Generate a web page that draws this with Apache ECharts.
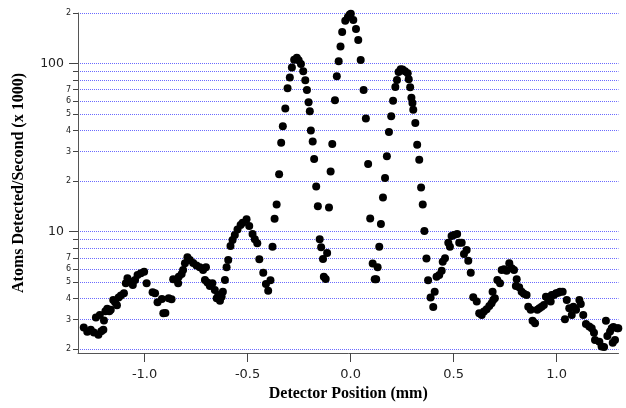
<!DOCTYPE html>
<html>
<head>
<meta charset="utf-8">
<script src="https://cdn.jsdelivr.net/npm/echarts@6/dist/echarts.min.js"></script>
<style>
    html, body { margin: 0; padding: 0; background: #fff; }
    #chart { width: 626px; height: 408px; }
</style>
</head>
<body>
<div id="chart"></div>
<script>
// detector position (mm)
var positions = [
    -1.295, -1.278, -1.261, -1.246, -1.236, -1.224, -1.217, -1.210, -1.200, -1.197,
    -1.190, -1.181, -1.171, -1.164, -1.152, -1.143, -1.134, -1.126, -1.115, -1.100,
    -1.091, -1.083, -1.071, -1.057, -1.046, -1.034, -1.018, -1.002, -0.990, -0.961,
    -0.949, -0.937, -0.916, -0.909, -0.899, -0.883, -0.869, -0.861, -0.837, -0.834,
    -0.820, -0.813, -0.804, -0.792, -0.780, -0.764, -0.748, -0.732, -0.716, -0.707,
    -0.702, -0.695, -0.683, -0.671, -0.659, -0.650, -0.642, -0.634, -0.626, -0.620,
    -0.610, -0.602, -0.594, -0.583, -0.573, -0.562, -0.549, -0.534, -0.524, -0.505,
    -0.492, -0.476, -0.465, -0.453, -0.443, -0.424, -0.411, -0.400, -0.389, -0.379,
    -0.369, -0.359, -0.347, -0.337, -0.329, -0.317, -0.306, -0.295, -0.285, -0.274,
    -0.261, -0.252, -0.241, -0.230, -0.220, -0.212, -0.204, -0.198, -0.193, -0.184,
    -0.177, -0.167, -0.159, -0.150, -0.143, -0.134, -0.130, -0.121, -0.114, -0.105,
    -0.097, -0.089, -0.076, -0.067, -0.058, -0.049, -0.041, -0.026, -0.013, -0.005,
    0.001, 0.013, 0.026, 0.037, 0.049, 0.063, 0.074, 0.085, 0.095, 0.107,
    0.117, 0.124, 0.131, 0.139, 0.147, 0.157, 0.167, 0.176, 0.186, 0.197,
    0.206, 0.217, 0.225, 0.233, 0.243, 0.252, 0.264, 0.277, 0.282, 0.289,
    0.295, 0.300, 0.304, 0.314, 0.323, 0.333, 0.342, 0.350, 0.358, 0.368,
    0.376, 0.388, 0.401, 0.408, 0.417, 0.430, 0.442, 0.447, 0.458, 0.474,
    0.482, 0.490, 0.501, 0.517, 0.527, 0.539, 0.550, 0.563, 0.571, 0.583,
    0.595, 0.612, 0.624, 0.636, 0.647, 0.660, 0.673, 0.684, 0.689, 0.692,
    0.700, 0.712, 0.725, 0.733, 0.744, 0.757, 0.770, 0.782, 0.793, 0.802,
    0.806, 0.818, 0.830, 0.841, 0.854, 0.862, 0.874, 0.883, 0.895, 0.906,
    0.916, 0.927, 0.938, 0.948, 0.959, 0.971, 0.976, 0.987, 0.997, 1.008,
    1.016, 1.029, 1.040, 1.049, 1.061, 1.073, 1.081, 1.094, 1.110, 1.117,
    1.129, 1.142, 1.158, 1.170, 1.181, 1.186, 1.207, 1.218, 1.230, 1.239,
    1.246, 1.259, 1.267, 1.272, 1.275, 1.283, 1.294, 1.299
];
// atoms detected per second (x 1000)
var atoms = [
    2.69, 2.54, 2.61, 2.52, 3.09, 2.44, 3.20, 2.56, 2.61, 2.97,
    3.36, 3.48, 3.36, 3.43, 3.93, 3.81, 3.65, 4.06, 4.17, 4.31,
    4.94, 5.29, 5.05, 4.83, 5.17, 5.53, 5.66, 5.79, 4.94, 4.37,
    4.31, 3.81, 3.98, 3.28, 3.29, 4.02, 3.97, 5.22, 4.94, 5.40,
    5.61, 5.92, 6.49, 7.05, 6.79, 6.52, 6.30, 6.15, 5.92, 5.17,
    6.15, 4.99, 4.76, 4.94, 4.51, 4.02, 4.21, 3.89, 4.11, 4.40,
    5.17, 6.15, 6.79, 8.23, 8.93, 9.56, 10.3, 10.96, 11.31, 11.85,
    10.81, 9.69, 9.01, 8.53, 6.86, 5.71, 4.89, 4.46, 5.14, 8.14,
    11.95, 14.5, 22.0, 33.8, 42.4, 54.1, 71.3, 82.6, 94.7, 105.6,
    108.3, 104.6, 99.5, 90.0, 79.6, 69.7, 58.9, 52.1, 40.0, 34.4,
    27.1, 18.6, 14.2, 9.01, 8.08, 6.89, 5.40, 5.24, 7.47, 13.96,
    22.8, 33.3, 60.5, 84.1, 103.2, 126.2, 154.0, 180.0, 189.1, 195.4,
    198.1, 181.5, 160.5, 138.1, 105.0, 69.7, 47.1, 25.3, 12.0, 6.47,
    5.22, 5.22, 6.15, 8.14, 11.1, 16.0, 20.9, 28.1, 39.2, 48.7,
    60.1, 72.5, 80.0, 89.2, 92.5, 92.1, 90.0, 87.6, 80.7, 72.3,
    62.7, 58.3, 53.2, 44.3, 32.9, 26.8, 18.3, 14.5, 10.1, 6.93,
    5.14, 4.06, 3.57, 4.40, 5.40, 5.53, 5.87, 6.63, 6.95, 8.61,
    8.14, 9.43, 9.56, 9.69, 8.61, 8.61, 7.37, 7.79, 6.73, 5.71,
    4.08, 3.84, 3.28, 3.20, 3.35, 3.46, 3.62, 3.76, 4.40, 3.93,
    4.02, 5.17, 4.94, 5.92, 5.98, 5.87, 6.49, 6.07, 5.92, 4.76,
    5.22, 4.67, 4.40, 4.27, 4.21, 3.58, 3.43, 2.96, 2.86, 3.43,
    3.51, 3.58, 3.67, 4.11, 3.93, 3.84, 4.21, 4.21, 4.31, 4.34,
    4.40, 4.40, 3.02, 3.93, 3.51, 3.20, 3.58, 3.43, 3.93, 3.72,
    3.20, 2.83, 2.73, 2.67, 2.51, 2.27, 2.22, 2.08, 2.06, 2.96,
    2.40, 2.55, 2.67, 2.19, 2.71, 2.27, 2.67, 2.67
];

var xTicks = [-1.0, -0.5, 0.0, 0.5, 1.0];
var yTicks = [2, 3, 4, 5, 6, 7, 8, 9, 10, 20, 30, 40, 50, 60, 70, 80, 90, 100, 200];
var yMinorLabels = [2, 3, 4, 5, 6, 7, 20, 30, 40, 50, 60, 70, 200];
var yMajorLabels = [10, 100];
var yMin = 1.9, yMax = 200;

$ = null;
(function () {
    var chart = echarts.init(document.getElementById('chart'), null, { renderer: 'canvas' });

    var points = [];
    for (var i = 0; i < positions.length; i++) {
        points.push([positions[i], atoms[i]]);
    }

    // decoration axes are linear over log10 of the value range
    function lg(list) {
        return list.map(function (v) { return Math.log10(v); });
    }
    var lgMin = Math.log10(yMin), lgMax = Math.log10(yMax);
    var labelFont = 'DejaVu Sans';
    var titleFont = 'Liberation Serif';

    var option = {
        animation: false,
        backgroundColor: '#fff',
        grid: {
            left: 78,
            right: 7.5,
            top: 13,
            bottom: 55,
            containLabel: false,
            outerBoundsMode: 'none'
        },
        xAxis: {
            type: 'value',
            min: -1.323,
            max: 1.3,
            name: 'Detector Position (mm)',
            nameLocation: 'middle',
            nameGap: 33,
            nameTextStyle: {
                fontFamily: titleFont,
                fontWeight: 'bold',
                fontSize: 16,
                color: '#000'
            },
            axisLine: { show: true, lineStyle: { color: '#555', width: 1 } },
            axisTick: {
                show: true,
                length: 9,
                customValues: xTicks,
                lineStyle: { color: '#444' }
            },
            axisLabel: {
                customValues: xTicks,
                margin: 15,
                fontFamily: labelFont,
                fontSize: 13,
                color: '#222',
                formatter: function (v) { return v.toFixed(1); }
            },
            splitLine: { show: false }
        },
        yAxis: [
            {
                // data axis
                type: 'log',
                logBase: 10,
                min: yMin,
                max: yMax,
                show: false
            },
            {
                type: 'value',
                position: 'left',
                min: lgMin,
                max: lgMax,
                name: 'Atoms Detected/Second (x 1000)',
                nameLocation: 'middle',
                nameGap: 51,
                nameTextStyle: {
                    fontFamily: titleFont,
                    fontWeight: 'bold',
                    fontSize: 16,
                    color: '#000'
                },
                axisLine: { show: true, lineStyle: { color: '#555', width: 1 } },
                axisTick: {
                    show: true,
                    length: 5,
                    customValues: lg(yTicks),
                    lineStyle: { color: '#444' }
                },
                axisLabel: {
                    customValues: lg(yMinorLabels),
                    margin: 7,
                    fontFamily: labelFont,
                    fontSize: 8,
                    color: '#222',
                    formatter: function (v) {
                        return String(Math.round(Math.pow(10, v - Math.floor(v + 1e-9))));
                    }
                },
                splitLine: {
                    show: true,
                    lineStyle: { color: '#6a6aff', width: 1, type: [1, 1] }
                }
            },
            {
                type: 'value',
                position: 'left',
                min: lgMin,
                max: lgMax,
                axisLine: { show: false },
                axisTick: {
                    show: true,
                    length: 9,
                    customValues: lg(yMajorLabels),
                    lineStyle: { color: '#444' }
                },
                axisLabel: {
                    customValues: lg(yMajorLabels),
                    margin: 14,
                    fontFamily: labelFont,
                    fontSize: 12.5,
                    color: '#222',
                    formatter: function (v) {
                        return String(Math.round(Math.pow(10, v)));
                    }
                },
                splitLine: { show: false }
            }
        ],
        series: [
            {
                name: 'atoms',
                type: 'scatter',
                yAxisIndex: 0,
                symbol: 'circle',
                symbolSize: 8,
                data: points,
                itemStyle: { color: '#000', opacity: 1 },
                emphasis: { disabled: true }
            }
        ]
    };
    chart.setOption(option);
})();
</script>
</body>
</html>
